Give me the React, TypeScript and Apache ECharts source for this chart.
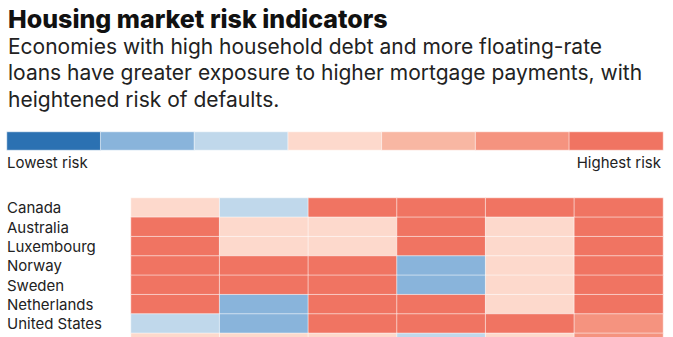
import React, { useEffect, useRef } from "react";
import * as echarts from "echarts";

const countries = ["Canada", "Australia", "Luxembourg", "Norway", "Sweden", "Netherlands", "United States", "Denmark"];
const indicators = ["Indicator 1", "Indicator 2", "Indicator 3", "Indicator 4", "Indicator 5", "Indicator 6"];
// risk level 0 (lowest) .. 6 (highest), per country per indicator
const riskCanada = [3, 2, 6, 6, 6, 6];
const riskAustralia = [6, 3, 3, 6, 3, 6];
const riskLuxembourg = [6, 3, 3, 6, 3, 6];
const riskNorway = [6, 6, 6, 1, 3, 6];
const riskSweden = [6, 6, 6, 1, 3, 6];
const riskNetherlands = [6, 1, 6, 6, 3, 6];
const riskUS = [2, 1, 6, 6, 6, 5];
const riskDenmark = [3, 3, 3, 2, 3, 5];
const riskRows = [riskCanada, riskAustralia, riskLuxembourg, riskNorway, riskSweden, riskNetherlands, riskUS, riskDenmark];

const levels = [0, 1, 2, 3, 4, 5, 6];
const levelColors = ["#2b71b2", "#89b4db", "#c0d8eb", "#fdd9cc", "#f8b7a3", "#f5937f", "#f07462"];

const FONT = "Inter";

export default function App() {
  const ref = useRef<HTMLDivElement>(null);
  useEffect(() => {
    if (!ref.current) return;
    const chart = echarts.init(ref.current, undefined, { renderer: "svg" });
    const heatData: number[][] = [];
    riskRows.forEach((row, r) => row.forEach((v, c) => heatData.push([c, r, v])));
    const legendData = levels.map((l, i) => [i, 0, l]);
    chart.setOption({
      animation: false,
      backgroundColor: "#ffffff",
      title: {
        left: 3,
        top: 1,
        text: "Housing market risk indicators",
        subtext:
          "Economies with high household debt and more floating-rate\nloans have greater exposure to higher mortgage payments, with\nheightened risk of defaults.",
        itemGap: 2,
        textStyle: { fontFamily: FONT, fontWeight: 800, fontSize: 25, color: "#111" },
        subtextStyle: { fontFamily: FONT, fontSize: 21, color: "#222", lineHeight: 26.5 },
      },
      visualMap: {
        show: false,
        type: "piecewise",
        seriesIndex: [0, 1],
        pieces: levels.map((l, i) => ({ value: l, color: levelColors[i] })),
      },
      grid: [
        { left: 131, width: 532, top: 198, height: 154.7, outerBoundsMode: "none", containLabel: false },
        { left: 7, width: 656, top: 132, height: 18, outerBoundsMode: "none", containLabel: false },
      ],
      xAxis: [
        { type: "category", gridIndex: 0, data: indicators, show: false },
        { type: "category", gridIndex: 1, data: levels.map(String), show: false },
      ],
      yAxis: [
        {
          type: "category",
          gridIndex: 0,
          data: countries,
          inverse: true,
          axisLine: { show: false },
          axisTick: { show: false },
          axisLabel: {
            interval: 0,
            align: "left",
            margin: 124,
            fontFamily: FONT,
            fontSize: 15,
            color: "#222",
          },
        },
        { type: "category", gridIndex: 1, data: ["scale"], show: false },
      ],
      graphic: [
        {
          type: "text",
          x: 7,
          y: 155,
          style: { text: "Lowest risk", fontFamily: FONT, fontSize: 15, fill: "#222" },
        },
        {
          type: "text",
          x: 661,
          y: 155,
          style: { text: "Highest risk", fontFamily: FONT, fontSize: 15, fill: "#222", align: "right" },
        },
      ],
      series: [
        {
          type: "heatmap",
          xAxisIndex: 0,
          yAxisIndex: 0,
          data: heatData,
          itemStyle: { borderColor: "rgba(255,255,255,0.55)", borderWidth: 1 },
          emphasis: { disabled: true },
        },
        {
          type: "heatmap",
          xAxisIndex: 1,
          yAxisIndex: 1,
          data: legendData,
          itemStyle: { borderColor: "rgba(255,255,255,0.55)", borderWidth: 1 },
          emphasis: { disabled: true },
        },
      ],
    });
    return () => chart.dispose();
  }, []);
  return (
    <div style={{ position: "absolute", left: 0, top: 0, width: 673, height: 337, overflow: "hidden" }}>
      <div ref={ref} style={{ width: 673, height: 360 }} />
    </div>
  );
}
